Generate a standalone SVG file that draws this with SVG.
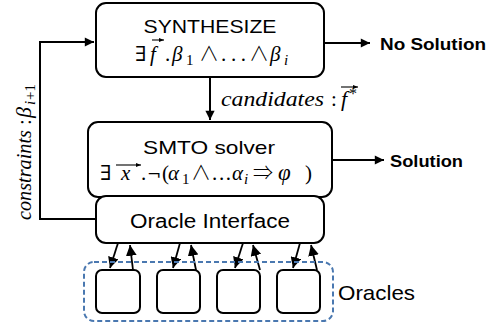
<svg xmlns="http://www.w3.org/2000/svg" width="500" height="328" viewBox="0 0 500 328">
<defs>
<style>
.box{fill:#fff;stroke:#000;stroke-width:2}
.sb{fill:#fff;stroke:#000;stroke-width:2}
.ln{fill:none;stroke:#000;stroke-width:2}
.sa{fill:none;stroke:#000;stroke-width:1.8}
.vl{fill:none;stroke:#000;stroke-width:1.1}
.sans{font-family:"Liberation Sans",Arial,sans-serif;fill:#000}
.math{font-family:"Liberation Serif","DejaVu Serif",serif;fill:#000}
.sym{font-family:"DejaVu Serif",serif;font-style:normal}
.symA{font-family:"Noto Sans CJK JP",sans-serif;font-style:normal;font-weight:300}
.it{font-style:italic}
.bold{font-weight:bold}
</style>
<marker id="ah" viewBox="0 0 10 10" refX="10" refY="5" markerWidth="5" markerHeight="4.6" orient="auto" markerUnits="strokeWidth">
<path d="M0,0 L10,5 L0,10 z" fill="#000"/>
</marker>
<marker id="ahs" viewBox="0 0 10 10" refX="10" refY="5" markerWidth="6" markerHeight="6" orient="auto" markerUnits="strokeWidth">
<path d="M0,0 L10,5 L0,10 z" fill="#000"/>
</marker>
<marker id="vec" viewBox="0 0 10 10" refX="10" refY="5" markerWidth="5" markerHeight="5" orient="auto" markerUnits="userSpaceOnUse">
<path d="M0,1 L10,5 L0,9 z" fill="#000"/>
</marker>
</defs>

<g id="connectors">
<path class="ln" d="M96,219 H40 V42 H94" marker-end="url(#ah)"/>
<path class="ln" d="M324,43 H370" marker-end="url(#ah)"/>
<path class="ln" d="M210,77 V120" marker-end="url(#ah)"/>
<path class="ln" d="M332,160 H384" marker-end="url(#ah)"/>
<path class="sa" d="M118,243 L110,268" marker-end="url(#ahs)"/>
<path class="sa" d="M133,270 L130,245" marker-end="url(#ahs)"/>
<path class="sa" d="M180,243 L173,268" marker-end="url(#ahs)"/>
<path class="sa" d="M196,270 L191,245" marker-end="url(#ahs)"/>
<path class="sa" d="M243,243 L235,268" marker-end="url(#ahs)"/>
<path class="sa" d="M260,270 L253,245" marker-end="url(#ahs)"/>
<path class="sa" d="M300,243 L293,268" marker-end="url(#ahs)"/>
<path class="sa" d="M317,270 L311,245" marker-end="url(#ahs)"/>
</g>

<g id="labels">
<text class="sans bold" x="380" y="50" font-size="16" textLength="106" lengthAdjust="spacingAndGlyphs">No Solution</text>
<text class="sans bold" x="390" y="167" font-size="16" textLength="73" lengthAdjust="spacingAndGlyphs">Solution</text>
<text class="math it" x="221" y="106" font-size="22" textLength="103" lengthAdjust="spacingAndGlyphs">candidates</text>
<text class="math" x="331" y="106" font-size="21">:</text>
<text class="math it" x="341" y="106" font-size="22">f</text>
<text class="math" x="349" y="99" font-size="16">*</text>
<path class="vl" d="M341,87 H358" marker-end="url(#vec)"/>
<g transform="translate(31,220) rotate(-90)">
<text class="math it" x="0" y="0" font-size="22" textLength="90" lengthAdjust="spacingAndGlyphs">constraints</text>
<text class="math" x="95" y="0" font-size="21">:</text>
<text class="math it" x="102" y="0" font-size="22">β</text>
<text class="math it" x="115" y="4" font-size="15">i</text>
<text class="math" x="120" y="4" font-size="15">+1</text>
</g>
</g>

<g id="synthesize">
<rect class="box" x="96" y="3" width="228" height="74" rx="10"/>
<text class="sans" x="210" y="33" font-size="19" text-anchor="middle" textLength="133" lengthAdjust="spacingAndGlyphs">SYNTHESIZE</text>
<text class="math" y="61" font-size="21">
<tspan x="135" class="sym">∃</tspan><tspan x="150" class="it">f</tspan><tspan x="165">.</tspan><tspan x="172" class="it">β</tspan><tspan x="186" y="65" font-size="15">1</tspan><tspan x="199" y="61" class="symA" font-size="20">∧</tspan><tspan x="221" textLength="25" lengthAdjust="spacing">...</tspan><tspan x="249" class="symA" font-size="20">∧</tspan><tspan x="270" class="it">β</tspan><tspan x="284" y="65" font-size="15" class="it">i</tspan>
</text>
<path class="vl" d="M152,40 H164" marker-end="url(#vec)"/>
</g>

<g id="smto">
<rect class="box" x="88" y="122" width="244" height="75" rx="10"/>
<text class="sans" x="209" y="154" font-size="19" text-anchor="middle" textLength="132" lengthAdjust="spacingAndGlyphs">SMTO solver</text>
<text class="math" y="180" font-size="21">
<tspan x="100" class="sym">∃</tspan><tspan x="121" class="it">x</tspan><tspan x="141">.</tspan><tspan x="147" class="sym" font-size="17">¬</tspan><tspan x="162" font-size="21">(</tspan><tspan x="168" class="it">α</tspan><tspan x="182" y="184" font-size="15">1</tspan><tspan x="191" y="180" class="symA" font-size="20">∧</tspan><tspan x="212" textLength="19" lengthAdjust="spacing">...</tspan><tspan x="232" class="it">α</tspan><tspan x="244" y="184" font-size="15" class="it">i</tspan><tspan x="253" class="symA" y="180" font-size="20">⇒</tspan><tspan x="278" class="it" font-size="23">φ</tspan><tspan x="305">)</tspan>
</text>
<path class="vl" d="M116,165 H141" marker-end="url(#vec)"/>
</g>

<g id="oracle-interface">
<rect class="box" x="96" y="196" width="228" height="47" rx="10"/>
<text class="sans" x="210" y="228" font-size="20" text-anchor="middle" textLength="160" lengthAdjust="spacingAndGlyphs">Oracle Interface</text>
</g>

<g id="oracles">
<rect x="84" y="262" width="249" height="59" rx="10" fill="none" stroke="#4a78b0" stroke-width="2" stroke-dasharray="5,3"/>
<text class="sans" x="338" y="300" font-size="21" textLength="77" lengthAdjust="spacingAndGlyphs">Oracles</text>
</g>
<g id="oracle1"><rect class="sb" x="96" y="270" width="44" height="43" rx="6"/></g>
<g id="oracle2"><rect class="sb" x="157" y="270" width="43" height="43" rx="6"/></g>
<g id="oracle3"><rect class="sb" x="217" y="270" width="43" height="43" rx="6"/></g>
<g id="oracle4"><rect class="sb" x="277" y="270" width="43" height="43" rx="6"/></g>
</svg>
